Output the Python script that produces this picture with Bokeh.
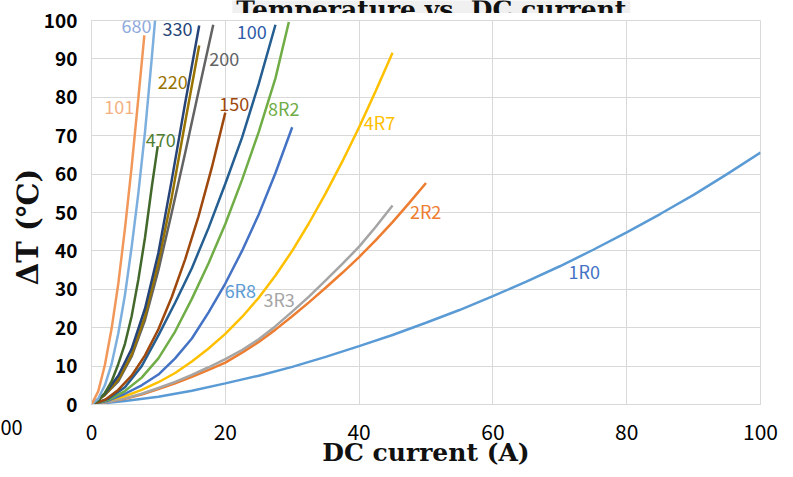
from bokeh.plotting import figure
from bokeh.models import Range1d, Label, FixedTicker, Title
from bokeh.layouts import column
from bokeh.embed import file_html
from bokeh.resources import INLINE
from bokeh.core.properties import value

# ---- data ----
names = ["1R0", "2R2", "3R3", "4R7", "6R8", "8R2", "100", "150", "200", "220", "330", "470", "680", "101"]

x_1R0 = [0, 5, 10, 15, 20, 25, 30, 35, 40, 45, 50, 55, 60, 65, 70, 75, 80, 85, 90, 95, 100]
y_1R0 = [0, 0.9, 2.0, 3.6, 5.5, 7.5, 9.8, 12.4, 15.2, 18.1, 21.3, 24.6, 28.2, 32.0, 36.0, 40.3, 44.8, 49.6, 54.6, 60.0, 65.6]

x_2R2 = [0, 2.5, 5, 7.5, 10, 12.5, 15, 17.5, 20, 22.5, 25, 27.5, 30, 32.5, 35, 37.5, 40, 42.5, 45, 47.5, 50]
y_2R2 = [0, 0.7, 1.5, 2.6, 4.0, 5.5, 7.2, 9.0, 10.9, 13.5, 16.3, 19.5, 23.0, 26.6, 30.4, 34.3, 38.4, 42.8, 47.5, 52.5, 57.7]

x_3R3 = [0, 2.5, 5, 7.5, 10, 12.5, 15, 17.5, 20, 22.5, 25, 27.5, 30, 32.5, 35, 37.5, 40, 42.5, 45]
y_3R3 = [0, 0.7, 1.6, 2.8, 4.3, 5.9, 7.7, 9.7, 11.8, 14.2, 17.0, 20.4, 24.2, 28.1, 32.3, 36.6, 41.1, 46.3, 51.8]

x_4R7 = [0, 2.5, 5, 7.5, 10, 12.5, 15, 17.5, 20, 22.5, 25, 27.5, 30, 32.5, 35, 37.5, 40, 42.5, 45]
y_4R7 = [0, 1.0, 2.2, 3.8, 5.8, 8.2, 11.2, 14.6, 18.4, 22.8, 27.8, 33.6, 40.0, 47.2, 55.0, 63.3, 72.2, 81.7, 91.6]

x_6R8 = [0, 2.5, 5, 7.5, 10, 12.5, 15, 17.5, 20, 22.5, 25, 27.5, 30]
y_6R8 = [0, 1.0, 2.8, 5.0, 7.8, 12.0, 17.2, 24.0, 31.5, 40.0, 49.5, 60.3, 72.2]

x_8R2 = [0, 2.5, 5, 7.5, 10, 12.5, 15, 17.5, 20, 22.5, 25, 27.5, 29.5]
y_8R2 = [0, 1.2, 3.5, 7.0, 12.0, 19.0, 27.5, 36.8, 47.0, 58.5, 71.0, 85.0, 99.6]

x_100 = [0, 2.5, 5, 7.5, 10, 12.5, 15, 17.5, 20, 22.5, 25, 27.5]
y_100 = [0, 1.5, 4.5, 10.0, 18.0, 26.5, 35.5, 46.0, 57.5, 69.5, 83.5, 98.9]

x_150 = [0, 2, 4, 6, 8, 10, 12, 14, 16, 18, 20]
y_150 = [0, 1.2, 3.8, 7.5, 12.8, 19.6, 28.0, 37.8, 49.0, 61.8, 76.0]

x_200 = [0, 2, 4, 6, 8, 10, 12, 14, 16, 18.2]
y_200 = [0, 2.5, 6.0, 12.5, 22.0, 35.0, 50.0, 65.5, 81.5, 98.9]

x_220 = [0, 2, 4, 6, 8, 10, 12, 14, 16.1]
y_220 = [0, 2.5, 6.5, 13.0, 23.0, 37.0, 54.0, 73.5, 93.5]

x_330 = [0, 2, 4, 6, 8, 10, 12, 14, 16.1]
y_330 = [0, 2.8, 7.5, 14.5, 25.0, 39.5, 58.5, 78.5, 98.7]

x_470 = [0, 1, 2, 3, 4, 5, 6, 7, 8, 9, 9.9]
y_470 = [0, 1.0, 3.0, 6.0, 10.5, 15.8, 23.0, 32.5, 43.5, 56.5, 67.3]

x_680 = [0, 1, 2, 3, 4, 5, 6, 7, 8, 9, 9.5]
y_680 = [0, 1.5, 5.0, 10.5, 18.5, 28.5, 41.0, 55.0, 71.0, 90.0, 100.0]

x_101 = [0, 1, 2, 3, 4, 5, 6, 7, 7.9]
y_101 = [0, 3.4, 10.3, 19.7, 31.4, 45.8, 61.9, 79.7, 96.1]

xs = [x_1R0, x_2R2, x_3R3, x_4R7, x_6R8, x_8R2, x_100, x_150, x_200, x_220, x_330, x_470, x_680, x_101]
ys = [y_1R0, y_2R2, y_3R3, y_4R7, y_6R8, y_8R2, y_100, y_150, y_200, y_220, y_330, y_470, y_680, y_101]

line_colors = ["#5B9BD5", "#ED7D31", "#A5A5A5", "#FFC000", "#4472C4", "#70AD47", "#255E91",
               "#9E480E", "#636363", "#997300", "#264478", "#43682B", "#7CAFDD", "#F1975A"]
label_colors = ["#4472C4", "#ED7D31", "#A5A5A5", "#FFC000", "#5B9BD5", "#70AD47", "#2E5BA8",
                "#9E480E", "#636363", "#997300", "#264478", "#507E32", "#8FAADC", "#F4B183"]
# where each series name is written (data units: left edge, vertical middle)
label_x = [71.3, 47.6, 25.7, 40.7, 19.9, 26.4, 21.7, 19.1, 17.6, 9.9, 10.6, 8.1, 4.5, 1.9]
label_y = [34.8, 50.3, 27.4, 73.5, 29.7, 77.3, 97.1, 78.3, 89.9, 84.1, 97.9, 68.8, 98.6, 77.4]

x_ticks = [0, 20, 40, 60, 80, 100]
y_ticks = [0, 10, 20, 30, 40, 50, 60, 70, 80, 90, 100]

title_text = "Temperature vs. DC current"
x_title = "DC current (A)"
y_title = "ΔT (℃)"
nb_tick_text = "00"   # what is left visible of the neighbouring chart's "100" tick label

GRID = "#d9d9d9"
SANS = "Noto Sans CJK SC"
SERIF = "DejaVu Serif"

# ---- title strip (the title is cut off at the top of the picture) ----
# its frame lines up with the chart frame below, so it shares the chart's x scale
t = figure(width=793, height=13, x_range=Range1d(0, 100), y_range=Range1d(13, 0),
           output_backend="svg", toolbar_location=None,
           min_border_left=0, min_border_right=0, min_border_top=0, min_border_bottom=0,
           x_axis_location=None, y_axis_location=None)
t.grid.visible = False
t.outline_line_color = None
t.text(x=[50.8], y=[8.5], text=[title_text], text_align="center", text_baseline="alphabetic",
       text_font=value(SERIF), text_font_style="bold", text_font_size="25px", text_color="#111111",
       background_fill_color="#f0f0f0", padding=4)

# ---- main chart ----
p = figure(width=793, height=464, x_range=Range1d(0, 100), y_range=Range1d(0, 100),
           output_backend="svg", toolbar_location=None,
           min_border_left=91, min_border_right=33, min_border_top=7, min_border_bottom=73)
p.background_fill_color = "white"
p.border_fill_color = "white"
p.outline_line_color = GRID

for ax in (p.xaxis, p.yaxis):
    ax.major_tick_line_color = None
    ax.minor_tick_line_color = None
    ax.major_tick_out = 0
    ax.major_tick_in = 0
    ax.major_label_text_color = "black"
    ax.major_label_text_font = SANS
    ax.axis_line_color = GRID
    ax.axis_label_text_font = SERIF
    ax.axis_label_text_font_style = "bold"
    ax.axis_label_text_color = "#111111"
p.xaxis.ticker = FixedTicker(ticks=x_ticks)
p.yaxis.ticker = FixedTicker(ticks=y_ticks)
p.xaxis.major_label_text_font_size = "21px"
p.xaxis.major_label_standoff = 19
p.yaxis.major_label_text_font_size = "19px"
p.yaxis.major_label_text_font_style = "bold"
p.yaxis.major_label_standoff = 14
p.xaxis.axis_label = x_title
p.xaxis.axis_label_text_font_size = "25px"
p.xaxis.axis_label_standoff = -5
p.yaxis.axis_label = y_title + "\u2003"
p.yaxis.axis_label_text_font_size = "29px"
p.yaxis.axis_label_standoff = -4

p.xgrid.grid_line_color = GRID
p.ygrid.grid_line_color = GRID
p.xgrid.ticker = FixedTicker(ticks=x_ticks)
p.ygrid.ticker = FixedTicker(ticks=y_ticks)

# remains of the neighbouring chart's tick label at the lower left edge
p.add_layout(Title(text=nb_tick_text, align="left", offset=-91, vertical_align="top", standoff=-100,
                   text_font=SANS, text_font_style="normal", text_font_size="20px",
                   text_color="black"), "below")

for xv, yv, c in zip(xs, ys, line_colors):
    p.line(xv, yv, line_color=c, line_width=2.5)

for n, lx, ly, c in zip(names, label_x, label_y, label_colors):
    p.add_layout(Label(x=lx, y=ly, text=n, text_color=c, text_font=SANS,
                       text_font_size="18px", text_align="left", text_baseline="middle"))

layout = column(t, p)
open("out.html", "w").write(file_html(layout, INLINE))
